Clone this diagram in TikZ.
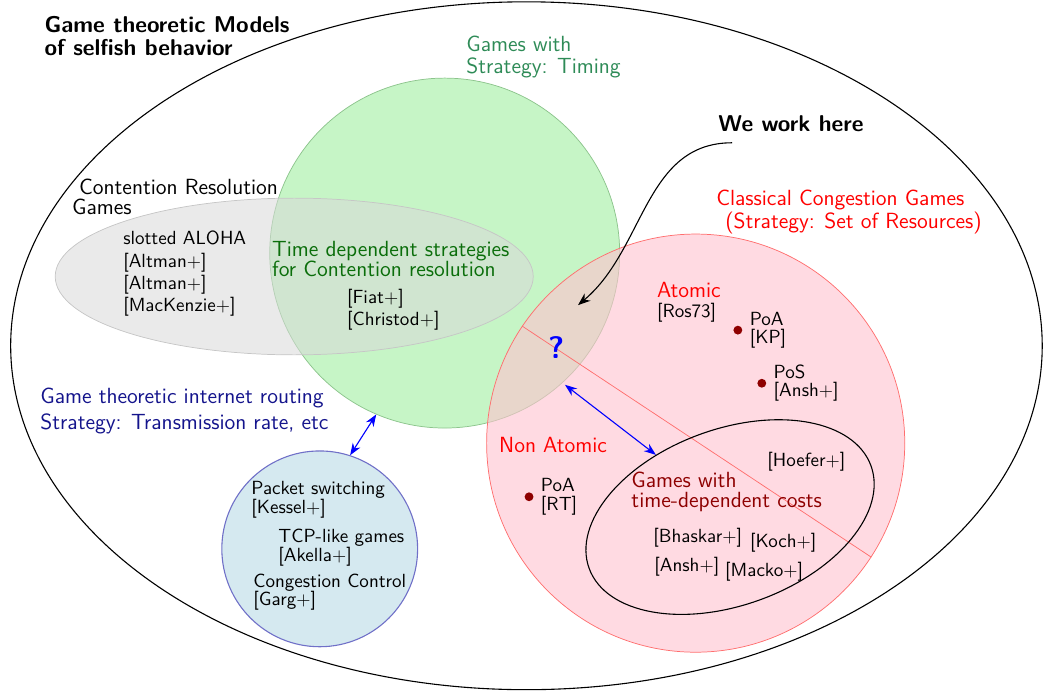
\documentclass[tikz,border=0pt]{standalone}
\usepackage{tikz}
\usetikzlibrary{positioning,arrows.meta,shapes.geometric}
\definecolor{timingGreen}{HTML}{2E8B57}
\definecolor{timingFill}{HTML}{C6F5C6}
\definecolor{timingEdge}{HTML}{8CC48C}
\definecolor{tdsGreen}{HTML}{0B6E0B}
\definecolor{routeNavy}{HTML}{14148C}
\definecolor{routeFill}{HTML}{D5E9F0}
\definecolor{routeEdge}{HTML}{7070C8}
\definecolor{congFill}{HTML}{FFC2CF}
\definecolor{congEdge}{HTML}{FF6E6E}
\definecolor{costRed}{HTML}{8E0000}
\newcommand{\vennfont}{\sffamily\fontsize{12}{10.9}\selectfont}
\newcommand{\refsize}{\sffamily\fontsize{10.4}{10}\selectfont}
\newcommand{\citeRef}[1]{{\refsize[#1]}}
\newcommand{\citePlus}[1]{{\refsize[#1$+$]}}
\setlength{\lineskiplimit}{-4pt}

\begin{document}
\begin{tikzpicture}[font=\vennfont,
      region/.style={draw, inner sep=0pt},
      lbl/.style={inner sep=0pt, anchor=north west, align=left},
      ref/.style={inner sep=0pt, anchor=west},
      dot/.style={circle, fill=costRed, inner sep=0pt, minimum size=1.7mm},
      link/.style={{Stealth[length=2.3mm]}-{Stealth[length=2.3mm]}, semithick, blue}]
    \useasboundingbox (0,0) rectangle (20.03,13.27);
    % ---- all selfish behaviour models
    \node[region, ellipse, semithick, minimum width=19.81cm, minimum height=13.21cm] (models) at (10.11,6.63) {};
    \node[lbl, font=\sffamily\fontsize{12.5}{11}\selectfont\bfseries] (modelsLbl) at (0.85,12.96) {Game theoretic Models\\[1.6pt]of selfish behavior};
    % ---- timing, contention, congestion, routing
    \node[region, circle, minimum size=6.72cm, fill=timingFill, draw=timingEdge] (timing) at (8.54,8.41) {};
    \node[region, ellipse, minimum width=9.18cm, minimum height=3.01cm, fill=gray!30, fill opacity=0.55, draw=gray!45] (contention) at (5.65,7.96) {};
    \node[region, circle, minimum size=8.03cm, fill=congFill, fill opacity=0.6, draw=congEdge] (cong) at (13.36,4.76) {};
    \draw[congEdge] (cong.146) -- (cong.-33);
    \node[region, circle, semithick, minimum size=3.76cm, fill=routeFill, draw=routeEdge] (routing) at (6.14,2.73) {};
    \node[region, ellipse, semithick, rotate=20, minimum width=5.76cm, minimum height=3.38cm] (tdc) at (14.02,3.34) {};
    \node[lbl, text=timingGreen] (timingLbl) at (8.95,12.58) {Games with\\[1.1pt]Strategy: Timing};
    \node[lbl] (contLbl) at (1.38,9.83) {\hspace*{3.8pt}Contention Resolution\\Games};
    \node[lbl, font=\refsize] (aloha) at (2.36,8.84) {slotted ALOHA\\[2.2pt]\citePlus{Altman}\\[2.2pt]\citePlus{Altman}\\[2.2pt]\citePlus{MacKenzie}};
    \node[lbl, text=tdsGreen] (tdsLbl) at (5.22,8.64) {Time dependent strategies\\for Contention resolution};
    \node[lbl] (fiat) at (6.66,7.72) {\citePlus{Fiat}\\[1pt]\citePlus{Christod}};
    \node[lbl, text=red] (congLbl) at (13.75,9.62) {Classical Congestion Games\\[1.6pt]\hspace*{4.9pt}(Strategy: Set of Resources)};
    \node[lbl, text=routeNavy] (routeLbl) at (0.77,5.82) {Game theoretic internet routing\\[3.2pt]Strategy: Transmission rate, etc};
    \node[lbl, font=\refsize] (packet) at (4.82,4.03) {Packet switching\\\citePlus{Kessel}};
    \node[lbl, font=\refsize] (tcp) at (5.34,3.11) {TCP-like games\\\citePlus{Akella}};
    \node[lbl, font=\refsize] (cc) at (4.86,2.25) {Congestion Control\\\citePlus{Garg}};
    % ---- atomic / non atomic side
    \node[lbl] (atomic) at (12.61,7.85) {\textcolor{red}{Atomic}\\\citeRef{Ros73}};
    \node[dot] (dotKP) at (14.17,6.93) {};
    \node[lbl, font=\refsize, right=1.3mm of dotKP] (poaKP) {PoA\\\citeRef{KP}};
    \node[dot] (dotAnsh) at (14.63,5.91) {};
    \node[lbl, font=\refsize, right=1.3mm of dotAnsh] (posAnsh) {PoS\\\citePlus{Ansh}};
    \node[ref, text=red] (nonAtomic) at (9.58,4.72) {Non Atomic};
    \node[dot] (dotRT) at (10.16,3.73) {};
    \node[lbl, font=\refsize, right=1.3mm of dotRT] (poaRT) {PoA\\\citeRef{RT}};
    \node[font=\sffamily\fontsize{17}{20}\selectfont\bfseries, text=blue, inner sep=0pt] (qmark) at (10.68,6.59) {?};
    % ---- time-dependent costs
    \node[lbl, text=costRed] (tdcLbl) at (12.12,4.21) {Games with\\time-dependent costs};
    \node[ref] (hoefer) at (14.73,4.40) {\citePlus{Hoefer}};
    \node[ref] (bhaskar) at (12.54,2.94) {\citePlus{Bhaskar}};
    \node[ref] (koch) at (14.40,2.84) {\citePlus{Koch}};
    \node[ref] (anshT) at (12.56,2.38) {\citePlus{Ansh}};
    \node[ref] (macko) at (13.92,2.29) {\citePlus{Macko}};
    % ---- pointers
    \node[ref, font=\sffamily\fontsize{12.5}{11}\selectfont\bfseries] (work) at (13.79,10.89) {We work here};
    \coordinate (here) at (11.10,7.41);
    \draw[-{Stealth[length=2.4mm]}, semithick] ([shift={(2.7mm,-2mm)}]work.south west) to[out=180, in=40] (here);
    \coordinate (qlink) at (10.85,5.88);
    \draw[link] (qlink) -- (tdc.120);
    \draw[link] (timing.247) -- (routing.72);
  \end{tikzpicture}
\end{document}
